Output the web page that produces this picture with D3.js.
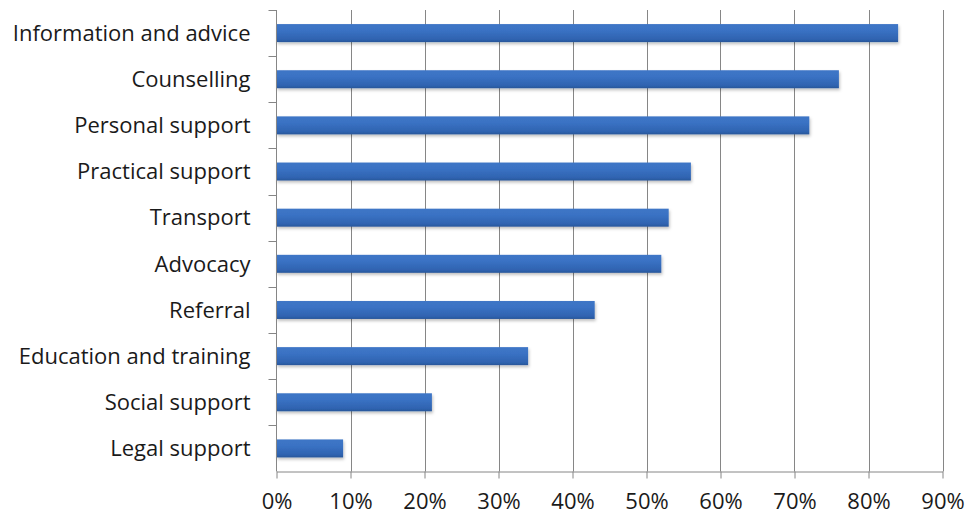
<!DOCTYPE html>
<html>
<head>
<meta charset="utf-8">
<script src="https://cdn.jsdelivr.net/npm/d3@7"></script>
<style>
  html, body { margin: 0; padding: 0; background: #fff; }
  svg { display: block; }
  text { font-family: "Open Sans", Lato, sans-serif; fill: #1a1a1a; }
</style>
</head>
<body>
<svg id="chart" width="969" height="516"></svg>
<script>
// Services offered, share of respondents
const categories = [
  "Information and advice", "Counselling", "Personal support", "Practical support",
  "Transport", "Advocacy", "Referral", "Education and training",
  "Social support", "Legal support"
];
const values = [0.84, 0.76, 0.72, 0.56, 0.53, 0.52, 0.43, 0.34, 0.21, 0.09];
const tickValues = [0, 0.1, 0.2, 0.3, 0.4, 0.5, 0.6, 0.7, 0.8, 0.9];

const svg = d3.select("#chart");
const margin = { left: 276.5, right: 26.5, top: 10, bottom: 44.5 };
const W = 969, H = 516;
const FONT = "'Open Sans', Lato, sans-serif";
const FS = 22;

const x = d3.scaleLinear().domain([0, 0.9]).range([margin.left, W - margin.right]);
const y = d3.scaleBand().domain(categories).range([margin.top, H - margin.bottom]).paddingInner(0.61).paddingOuter(0.305);

const defs = svg.append("defs");
const grad = defs.append("linearGradient").attr("id", "barGrad").attr("x1", 0).attr("y1", 0).attr("x2", 0).attr("y2", 1);
grad.append("stop").attr("offset", "0%").attr("stop-color", "#3f76c6");
grad.append("stop").attr("offset", "35%").attr("stop-color", "#3a72c4");
grad.append("stop").attr("offset", "85%").attr("stop-color", "#2f63b0");
grad.append("stop").attr("offset", "100%").attr("stop-color", "#285699");
const shadow = defs.append("filter").attr("id", "shadow").attr("x", "-5%").attr("y", "-30%").attr("width", "110%").attr("height", "180%");
shadow.append("feDropShadow").attr("dx", 1).attr("dy", 2).attr("stdDeviation", 1.5).attr("flood-color", "#000").attr("flood-opacity", 0.25);

// vertical gridlines
svg.append("g").selectAll("line").data(tickValues.slice(1)).join("line")
  .attr("x1", d => Math.round(x(d)) + 0.5).attr("x2", d => Math.round(x(d)) + 0.5)
  .attr("y1", margin.top).attr("y2", H - margin.bottom)
  .attr("stroke", "#868686").attr("stroke-width", 1);

// bars
svg.append("g").selectAll("rect").data(categories).join("rect")
  .attr("x", x(0))
  .attr("y", d => y(d))
  .attr("width", (d, i) => x(values[i]) - x(0))
  .attr("height", y.bandwidth())
  .attr("fill", "url(#barGrad)")
  .attr("filter", "url(#shadow)");

// x axis
const xAxis = d3.axisBottom(x).tickValues(tickValues).tickFormat(d3.format(".0%")).tickSize(7).tickSizeOuter(0);
const gx = svg.append("g").attr("transform", `translate(0,${H - margin.bottom})`).call(xAxis);
gx.select(".domain").attr("stroke", "#868686");
gx.selectAll(".tick line").attr("stroke", "#868686");
gx.selectAll(".tick text").attr("font-size", FS).attr("y", 37).attr("dy", 0)
  .style("font-family", FONT).attr("fill", "#1a1a1a");

// y axis with ticks between categories
const gy = svg.append("g").attr("transform", `translate(${margin.left},0)`);
gy.append("line").attr("x1", 0).attr("x2", 0).attr("y1", margin.top).attr("y2", H - margin.bottom).attr("stroke", "#868686");
const step = y.step();
const boundaries = d3.range(categories.length).map(i => margin.top + i * step);
gy.selectAll(".sep").data(boundaries).join("line")
  .attr("x1", -8).attr("x2", 0)
  .attr("y1", d => Math.round(d) + 0.5).attr("y2", d => Math.round(d) + 0.5)
  .attr("stroke", "#868686");
gy.selectAll("text").data(categories).join("text")
  .attr("x", -26).attr("y", d => y(d) + y.bandwidth() / 2)
  .attr("dy", "0.35em").attr("text-anchor", "end").attr("font-size", FS)
  .text(d => d);
</script>
</body>
</html>
